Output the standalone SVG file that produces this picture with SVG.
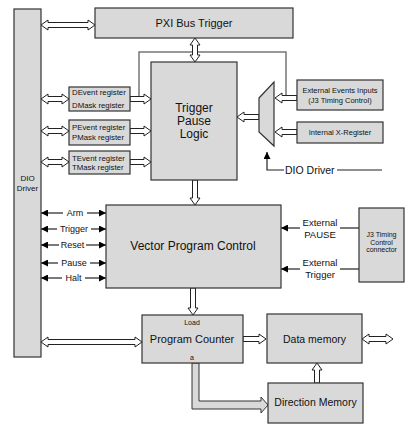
<svg xmlns="http://www.w3.org/2000/svg" width="413" height="433" viewBox="0 0 413 433">
<style>
.box{fill:#d9d9d9;stroke:#333;stroke-width:1.2}
.ba{fill:#fff;stroke:#222;stroke-width:1}
.bag{fill:#d9d9d9;stroke:#333;stroke-width:1}
.ln{stroke:#222;stroke-width:1.2;fill:none}
.gl{stroke:#777;stroke-width:1.5;fill:none}
text{font-family:"Liberation Sans",Arial,sans-serif;fill:#111}
.c{text-anchor:middle}
</style>
<defs>
<marker id="ah" viewBox="0 0 10 10" refX="10" refY="5" markerWidth="7" markerHeight="7" markerUnits="userSpaceOnUse" orient="auto-start-reverse">
<path d="M0,0L10,5L0,10z" fill="#000"/>
</marker>
</defs>
<rect width="413" height="433" fill="#fff"/>

<g id="connectors">
<polyline class="gl" points="139,97 139,52 286,52 286,97"/>
<polygon class="ba" points="41,25 48,20 48,22.5 88,22.5 88,20 95,25 88,30 88,27.5 48,27.5 48,30"/>
<polygon class="ba" points="195,38 200,45 197.5,45 197.5,55 200,55 195,62 190,55 192.5,55 192.5,45 190,45"/>
<polygon class="ba" points="41,99 48,94 48,96.5 62,96.5 62,94 69,99 62,104 62,101.5 48,101.5 48,104"/>
<polygon class="ba" points="41,131 48,126 48,128.5 62,128.5 62,126 69,131 62,136 62,133.5 48,133.5 48,136"/>
<polygon class="ba" points="41,162 48,157 48,159.5 62,159.5 62,157 69,162 62,167 62,164.5 48,164.5 48,167"/>
<polygon class="ba" points="130,96.5 144,96.5 144,94 151,99 144,104 144,101.5 130,101.5"/>
<polygon class="ba" points="130,128.5 144,128.5 144,126 151,131 144,136 144,133.5 130,133.5"/>
<polygon class="ba" points="130,159.5 144,159.5 144,157 151,162 144,167 144,164.5 130,164.5"/>
<polygon class="ba" points="237,117 244,112 244,114.5 259,114.5 259,119.5 244,119.5 244,122"/>
<polygon class="ba" points="275,98 282,93 282,95.5 297,95.5 297,100.5 282,100.5 282,103"/>
<polygon class="ba" points="275,132 282,127 282,129.5 297,129.5 297,134.5 282,134.5 282,137"/>
<polyline class="ln" points="267,152 267,170 284,170" marker-start="url(#ah)"/>
<line class="ln" x1="337" y1="170" x2="382" y2="170"/>
<polygon class="ba" points="192.5,180 197.5,180 197.5,198 200,198 195,205 190,198 192.5,198"/>
<line class="ln" x1="41" y1="213" x2="63" y2="213" marker-start="url(#ah)"/>
<line class="ln" x1="87" y1="213" x2="106" y2="213" marker-end="url(#ah)"/>
<line class="ln" x1="41" y1="229" x2="57" y2="229" marker-start="url(#ah)"/>
<line class="ln" x1="91" y1="229" x2="106" y2="229" marker-end="url(#ah)"/>
<line class="ln" x1="41" y1="245" x2="59" y2="245" marker-start="url(#ah)"/>
<line class="ln" x1="86" y1="245" x2="106" y2="245" marker-end="url(#ah)"/>
<line class="ln" x1="41" y1="263" x2="58" y2="263" marker-start="url(#ah)"/>
<line class="ln" x1="90" y1="263" x2="106" y2="263" marker-end="url(#ah)"/>
<line class="ln" x1="41" y1="278" x2="62" y2="278" marker-start="url(#ah)"/>
<line class="ln" x1="85" y1="278" x2="106" y2="278" marker-end="url(#ah)"/>
<line class="ln" x1="300" y1="228" x2="281" y2="228" marker-end="url(#ah)"/>
<line class="ln" x1="340" y1="228" x2="359" y2="228"/>
<line class="ln" x1="300" y1="269" x2="281" y2="269" marker-end="url(#ah)"/>
<line class="ln" x1="340" y1="269" x2="359" y2="269"/>
<polygon class="ba" points="190.5,288 195.5,288 195.5,308 198,308 193,315 188,308 190.5,308"/>
<polygon class="ba" points="41,342 48,337 48,339.5 135,339.5 135,337 142,342 135,347 135,344.5 48,344.5 48,347"/>
<polygon class="ba" points="243,336.5 259,336.5 259,334 266,339 259,344 259,341.5 243,341.5"/>
<polygon class="ba" points="362,339 369,334 369,336.5 386,336.5 386,334 393,339 386,344 386,341.5 369,341.5 369,344"/>
<polygon class="ba" points="314.5,383 314.5,370 312,370 317,363 322,370 319.5,370 319.5,383"/>
<polygon class="bag" points="192,363 199,363 199,401 261,401 261,397 268,405 261,413 261,409 192,409"/>
</g>

<g id="dio-driver">
<rect class="box" x="14" y="9" width="27" height="348"/>
<text class="c" x="27.5" y="181" font-size="8">DIO</text>
<text class="c" x="27.5" y="191" font-size="8">Driver</text>
</g>
<g id="pxi-bus-trigger">
<rect class="box" x="95" y="8" width="198" height="30"/>
<text class="c" x="194" y="27" font-size="11">PXI Bus Trigger</text>
</g>
<g id="trigger-pause-logic">
<rect class="box" x="151" y="62" width="86" height="118"/>
<text class="c" x="194" y="112" font-size="12">Trigger</text>
<text class="c" x="194" y="125" font-size="12">Pause</text>
<text class="c" x="194" y="138" font-size="12">Logic</text>
</g>
<g id="d-register">
<rect class="box" x="69" y="87" width="61" height="24"/>
<text x="72" y="95" font-size="7.8">DEvent register</text>
<text x="72" y="108" font-size="7.8">DMask register</text>
</g>
<g id="p-register">
<rect class="box" x="69" y="120" width="61" height="25"/>
<text x="72" y="130" font-size="7.8">PEvent register</text>
<text x="72" y="139.5" font-size="7.8">PMask register</text>
</g>
<g id="t-register">
<rect class="box" x="69" y="151" width="61" height="23"/>
<text x="72" y="161" font-size="7.8">TEvent register</text>
<text x="72" y="170" font-size="7.8">TMask register</text>
</g>
<g id="mux">
<polygon class="box" points="259,98 274,82 274,146 259,132"/>
</g>
<g id="external-events">
<rect class="box" x="297" y="80" width="86" height="30"/>
<text class="c" x="340" y="93" font-size="7.5">External Events Inputs</text>
<text class="c" x="340" y="103" font-size="7.5">(J3 Timing Control)</text>
</g>
<g id="internal-x-register">
<rect class="box" x="297" y="122" width="86" height="21"/>
<text class="c" x="340" y="135" font-size="7.5">Internal X-Register</text>
</g>
<g id="dio-driver-label">
<text x="285" y="174" font-size="10.5">DIO Driver</text>
</g>
<g id="vector-program-control">
<rect class="box" x="106" y="205" width="175" height="83"/>
<text class="c" x="193" y="250" font-size="12">Vector Program Control</text>
</g>
<g id="signal-labels">
<text class="c" x="75" y="216" font-size="9">Arm</text>
<text class="c" x="74" y="232" font-size="9">Trigger</text>
<text class="c" x="72.5" y="248" font-size="9">Reset</text>
<text class="c" x="74" y="266" font-size="9">Pause</text>
<text class="c" x="73.5" y="281" font-size="9">Halt</text>
<text class="c" x="320" y="226" font-size="9.5">External</text>
<text class="c" x="320" y="238" font-size="9.5">PAUSE</text>
<text class="c" x="320" y="266" font-size="9.5">External</text>
<text class="c" x="320" y="278" font-size="9.5">Trigger</text>
</g>
<g id="j3-connector">
<rect class="box" x="359" y="208" width="45" height="74"/>
<text class="c" x="381.5" y="237" font-size="7">J3 Timing</text>
<text class="c" x="381.5" y="244.5" font-size="7">Control</text>
<text class="c" x="381.5" y="252" font-size="7">connector</text>
</g>
<g id="program-counter">
<rect class="box" x="142" y="315" width="101" height="48"/>
<text class="c" x="192" y="325" font-size="7">Load</text>
<text class="c" x="192" y="343" font-size="11">Program Counter</text>
<text class="c" x="192" y="360" font-size="7">a</text>
</g>
<g id="data-memory">
<rect class="box" x="267" y="314" width="95" height="49"/>
<text class="c" x="314.5" y="342.5" font-size="10.5">Data memory</text>
</g>
<g id="direction-memory">
<rect class="box" x="268" y="383" width="95" height="40"/>
<text class="c" x="315.5" y="406" font-size="10.5">Direction Memory</text>
</g>
</svg>
